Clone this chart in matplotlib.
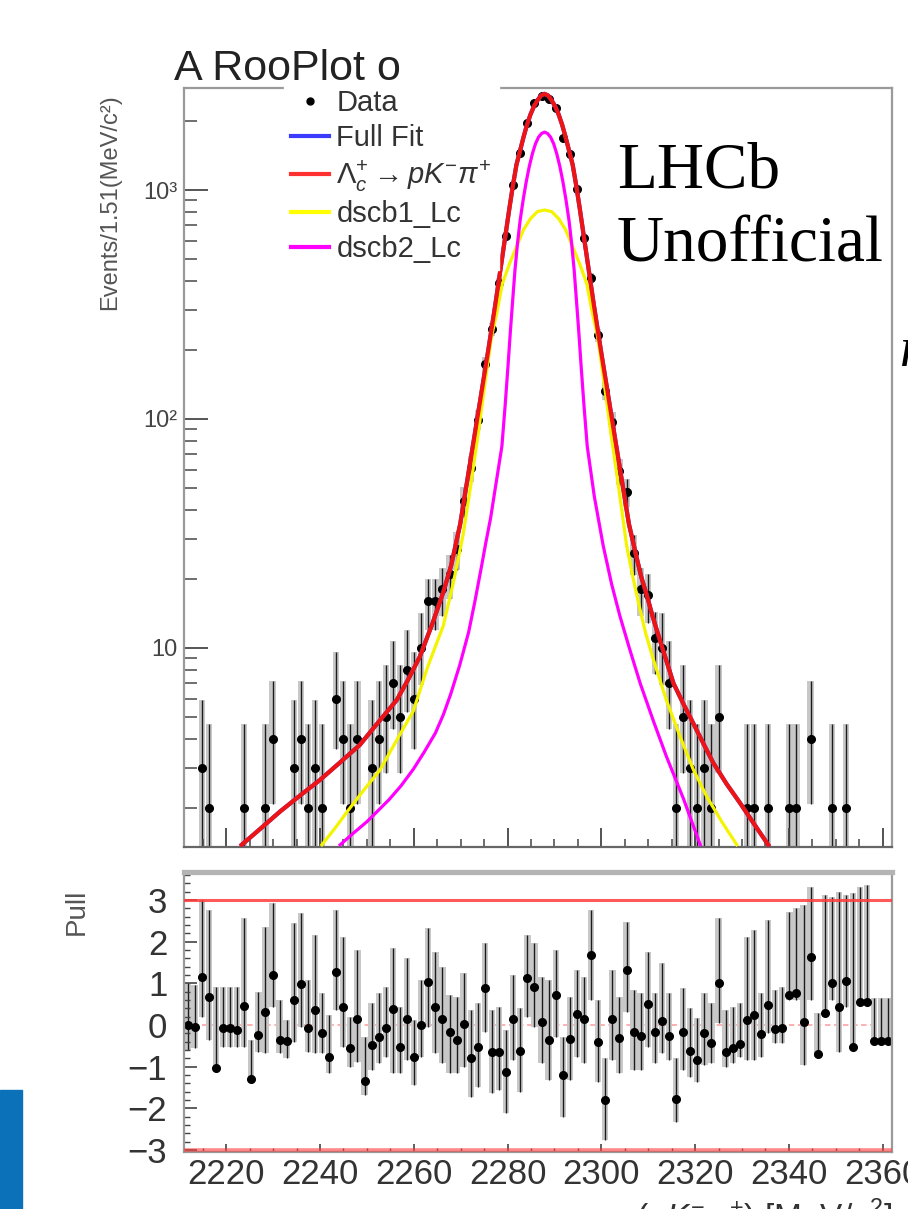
import numpy as np
import matplotlib
matplotlib.use("Agg")
import matplotlib.pyplot as plt
from matplotlib.ticker import MultipleLocator, LogLocator, NullFormatter, FixedLocator
from matplotlib.transforms import Bbox, TransformedBbox
from matplotlib.lines import Line2D
from matplotlib.patches import Rectangle

# ---------------- data ----------------
x_min, x_max = 2211.0, 2362.0
bin_width = 1.51
n_bins = 100

data_counts = [0, 0, 3, 2, 0, 0, 0, 0, 2, 0,
               0, 2, 4, 0, 0, 3, 4, 2, 3, 2,
               0, 6, 4, 2, 4, 0, 3, 4, 5, 7,
               5, 8, 6, 10, 16, 16, 18, 21, 27, 44,
               61, 99, 173, 246, 394, 632, 1052, 1455, 1954, 2388,
               2574, 2494, 2273, 1688, 1432, 1008, 620, 413, 233, 133,
               97, 59, 48, 26, 18, 17, 11, 10, 7, 2,
               5, 3, 2, 3, 2, 5, 0, 0, 0, 2,
               2, 0, 2, 0, 0, 2, 2, 0, 4, 0,
               0, 2, 0, 2, 0, 0, 0, 0, 0, 0]

pull_values = [0.00, -0.05, 1.16, 0.68, -1.04, -0.08, -0.08, -0.12, 0.46, -1.30,
               -0.24, 0.30, 1.20, -0.36, -0.38, 0.60, 0.98, -0.08, 0.36, -0.20,
               -0.76, 1.28, 0.44, -0.56, 0.14, -1.34, -0.48, -0.28, -0.08, 0.38,
               -0.54, 0.14, -0.78, 0.00, 1.04, 0.44, 0.14, -0.18, -0.36, 0.02,
               -0.80, -0.52, 0.88, -0.66, -0.64, -1.12, 0.14, -0.62, 1.12, 0.92,
               0.08, -0.36, 0.72, -1.20, -0.34, 0.26, 0.14, 1.68, -0.42, -1.80,
               0.14, -0.32, 1.32, -0.16, -0.26, 0.50, -0.18, 0.10, -0.26, -1.78,
               -0.18, -0.62, -0.84, -0.20, -0.44, 1.00, -0.66, -0.56, -0.46, 0.12,
               0.24, -0.22, 0.48, -0.10, -0.08, 0.72, 0.76, 0.06, 1.64, -0.70,
               0.28, 1.00, 0.42, 1.06, -0.54, 0.56, 0.56, -0.38, -0.38, -0.38]

pull_upper = [1.00, 0.95, 3.00, 2.76, 0.92, 0.92, 0.92, 0.92, 2.56, -0.36,
              0.80, 2.36, 2.92, 0.60, 0.12, 2.44, 2.68, 1.08, 2.16, 0.76,
              0.24, 2.76, 2.12, 0.20, 1.80, -0.28, 0.52, 0.76, 0.92, 1.84,
              0.44, 1.60, 0.12, 1.08, 2.32, 1.76, 1.40, 0.72, 0.68, 1.24,
              0.36, 0.52, 1.96, 0.36, 0.44, -0.12, 1.20, 0.40, 2.16, 1.96,
              1.16, 1.08, 1.80, -0.28, 0.68, 1.32, 1.16, 2.76, 0.60, -0.80,
              1.32, 0.68, 2.48, 0.84, 0.76, 1.76, 0.76, 1.48, 0.76, -0.80,
              0.88, 0.40, 0.16, 0.76, 0.52, 2.56, 0.36, 0.44, 0.52, 2.12,
              2.28, 0.76, 2.52, 0.84, 0.92, 2.72, 2.80, 2.88, 3.32, 0.28,
              3.12, 3.08, 3.20, 3.12, 3.16, 3.32, 3.36, 0.64, 0.64, 0.64]

pull_lower = [-0.60, -0.55, 0.20, -0.36, -1.08, -0.52, -0.52, -0.52, -0.52, -1.40,
              -0.64, -0.68, 0.44, -0.68, -0.80, -0.40, -0.04, -0.64, -0.68, -0.68,
              -1.16, 0.36, -0.52, -1.00, -0.88, -1.68, -1.08, -0.92, -0.76, -1.16,
              -1.16, -0.84, -1.44, -0.76, -0.04, -0.68, -0.92, -1.16, -1.16, -1.00,
              -1.72, -1.48, -0.16, -1.64, -1.56, -2.12, -0.84, -1.60, 0.20, -0.04,
              -0.92, -1.32, -0.28, -2.20, -1.32, -0.76, -0.92, 0.60, -1.36, -2.76,
              -0.84, -1.16, 0.32, -1.08, -1.08, -0.52, -0.92, -0.68, -0.84, -2.32,
              -1.08, -1.24, -1.36, -0.96, -0.92, 0.04, -1.00, -0.92, -0.76, -0.84,
              -0.84, -0.76, -0.20, -0.44, -0.44, 0.60, 0.60, -0.96, 0.60, -0.76,
              0.20, 0.60, -0.64, 0.44, -0.54, 0.60, 0.60, -0.40, -0.40, -0.40]

# fitted curves (mass, events per bin)
red_mass = [2223.3, 2227.4, 2231.5, 2235.8, 2240.0, 2244.2, 2248.5, 2252.5, 2256.4, 2259.0,
            2261.3, 2264.0, 2266.3, 2268.0, 2269.9, 2271.4, 2272.9, 2274.4, 2275.9, 2277.4,
            2278.9, 2280.4, 2281.15, 2281.9, 2282.65, 2283.4, 2284.15, 2284.9, 2285.65, 2286.4,
            2287.15, 2287.9, 2288.65, 2289.4, 2290.15, 2290.9, 2291.65, 2292.4, 2293.15, 2293.9,
            2294.65, 2295.4, 2296.9, 2298.4, 2299.9, 2301.4, 2302.9, 2304.4, 2305.9, 2307.4,
            2308.5, 2309.7, 2311.0, 2312.5, 2315.4, 2317.5, 2319.6, 2321.7, 2323.9, 2326.7,
            2329.6, 2332.6, 2335.6]
red_vals = [1.38, 1.63, 1.93, 2.27, 2.65, 3.15, 3.77, 4.75, 5.93, 7.4,
            9.16, 12.8, 17.5, 23.0, 34.7, 53.7, 83.0, 129.0, 200.0, 316.0,
            513.0, 832.0, 1047.0, 1288.0, 1479.0, 1698.0, 1928.0, 2138.0, 2323.0, 2466.0,
            2588.0, 2630.0, 2588.0, 2466.0, 2323.0, 2138.0, 1928.0, 1698.0, 1479.0, 1288.0,
            1047.0, 832.0, 513.0, 316.0, 200.0, 129.0, 83.0, 53.7, 34.7, 25.5,
            20.5, 17.0, 13.6, 10.8, 7.0, 5.7, 4.69, 3.85, 3.14, 2.55,
            2.10, 1.70, 1.38]

yellow_mass = [2240.4, 2243.2, 2246.0, 2249.4, 2252.8, 2256.5, 2259.9, 2263.0, 2266.3, 2268.5,
               2270.5, 2272.2, 2273.9, 2275.2, 2276.6, 2277.7, 2278.9, 2280.4, 2281.9, 2283.4,
               2284.9, 2286.4, 2287.9, 2289.4, 2290.9, 2292.4, 2293.9, 2295.4, 2296.9, 2298.1,
               2299.2, 2300.6, 2301.9, 2303.6, 2305.4, 2306.6, 2308.0, 2309.5, 2311.1, 2313.9,
               2316.8, 2319.6, 2322.5, 2325.7, 2328.9]
yellow_vals = [1.38, 1.63, 1.95, 2.4, 2.93, 4.0, 5.3, 8.3, 12.5, 19.5,
               31.0, 52.0, 91.0, 144.0, 230.0, 290.0, 390.0, 475.0, 565.0, 670.0,
               750.0, 805.0, 818.0, 805.0, 750.0, 670.0, 565.0, 475.0, 390.0, 290.0,
               230.0, 144.0, 91.0, 52.0, 28.0, 21.0, 15.5, 11.5, 8.9, 5.9,
               4.1, 2.95, 2.24, 1.74, 1.38]

magenta_mass = [2244.3, 2247.1, 2250.0, 2254.7, 2257.3, 2259.9, 2262.2, 2264.6, 2266.3, 2267.9,
                2269.8, 2271.7, 2273.0, 2274.4, 2275.4, 2276.4, 2277.4, 2278.8, 2279.5, 2280.1,
                2280.6, 2281.1, 2281.6, 2282.15, 2282.7, 2283.35, 2284.0, 2284.65, 2285.3, 2285.95,
                2286.6, 2287.25, 2287.9, 2288.55, 2289.2, 2289.85, 2290.5, 2291.15, 2291.8, 2292.45,
                2293.1, 2293.65, 2294.2, 2294.7, 2295.2, 2295.7, 2296.3, 2297.0, 2298.5, 2300.4,
                2302.2, 2304.0, 2306.1, 2308.3, 2311.1, 2313.9, 2317.5, 2321.1]
magenta_vals = [1.38, 1.55, 1.74, 2.17, 2.5, 2.95, 3.5, 4.24, 5.1, 6.3,
                8.4, 11.7, 15.8, 22.4, 29.0, 37.0, 50.0, 76.0, 115.0, 170.0,
                240.0, 330.0, 450.0, 590.0, 740.0, 910.0, 1090.0, 1270.0, 1440.0, 1590.0,
                1700.0, 1765.0, 1790.0, 1765.0, 1700.0, 1590.0, 1440.0, 1270.0, 1090.0, 910.0,
                740.0, 590.0, 450.0, 330.0, 240.0, 170.0, 115.0, 76.0, 46.0, 28.0,
                19.0, 13.7, 9.8, 7.0, 4.8, 3.35, 2.2, 1.38]

# 68% Poisson intervals for small counts (lower, upper)
poisson_table = {2: (0.71, 4.64), 3: (1.37, 5.92), 4: (2.09, 7.16), 5: (2.84, 8.38),
                 6: (3.62, 9.58), 7: (4.42, 10.77), 8: (5.23, 11.95), 10: (6.89, 14.27)}

# ---------------- style ----------------
NARROW = ['Liberation Sans Narrow', 'Liberation Sans', 'DejaVu Sans']
SANS = ['Liberation Sans', 'DejaVu Sans']
plt.rcParams['font.family'] = SANS
plt.rcParams['mathtext.fontset'] = 'custom'
plt.rcParams['mathtext.rm'] = 'Liberation Sans'
plt.rcParams['mathtext.it'] = 'Liberation Sans:italic'
plt.rcParams['mathtext.bf'] = 'Liberation Sans:bold'

W, H = 908, 1209
fig = plt.figure(figsize=(W / 100, H / 100), dpi=100)


def fx(px):
    return px / W


def fy(py):
    return 1 - py / H


centers = x_min + bin_width * (np.arange(n_bins) + 0.5)
counts = np.array(data_counts, dtype=float)

# ---------------- top panel ----------------
ax = fig.add_axes([fx(184), fy(847), fx(892) - fx(184), fy(88) - fy(847)])
ax.set_yscale('log')
ax.set_xlim(x_min, x_max)
ax.set_ylim(1.35, 2790)

vis = counts > 0
xc = centers[vis]
nc = counts[vis]
lo = np.array([poisson_table[int(n)][0] if int(n) in poisson_table else n - np.sqrt(n) for n in nc])
hi = np.array([poisson_table[int(n)][1] if int(n) in poisson_table else n + np.sqrt(n) for n in nc])
ax.bar(xc, hi - lo, bottom=lo, width=0.9 * bin_width, color='#c8c8c8', zorder=1)
ax.vlines(xc, lo, hi, color='#1c1c1c', lw=1.0, zorder=1.5)
ax.plot(xc, nc, 'o', color='black', ms=5.5, zorder=2)

ax.plot(red_mass, red_vals, color='#3b3bff', lw=3.0, zorder=2.6)   # Full Fit (under the signal)
ax.plot(yellow_mass, yellow_vals, color='#f4f400', lw=2.3, zorder=2.7)
ax.plot(magenta_mass, magenta_vals, color='#ff00ff', lw=2.3, zorder=2.8)
ax.plot(red_mass, red_vals, color='#ee1414', lw=3.0, zorder=2.9)

ax.xaxis.set_major_locator(MultipleLocator(20))
ax.xaxis.set_minor_locator(MultipleLocator(5))
ax.tick_params(axis='x', which='both', direction='in', labelbottom=False, top=False, colors='#444444')
ax.tick_params(axis='x', which='major', length=14, width=1.3)
ax.tick_params(axis='x', which='minor', length=6, width=1.1)
ax.yaxis.set_major_locator(FixedLocator([10, 100, 1000]))
ax.set_yticklabels(['10', '10²', '10³'])
ax.yaxis.set_minor_locator(LogLocator(base=10, subs=np.arange(2, 10)))
ax.yaxis.set_minor_formatter(NullFormatter())
ax.tick_params(axis='y', which='both', direction='in', right=False, colors='#555555')
ax.tick_params(axis='y', which='major', length=17, width=1.4, pad=5, labelsize=17, labelcolor='#444444')
ax.tick_params(axis='y', which='minor', length=9, width=1.2)
for lab in ax.get_yticklabels():
    lab.set_family(NARROW)
for s in ax.spines.values():
    s.set_color('#9a9a9a')
    s.set_linewidth(1.6)
ax.spines['bottom'].set_color('#666666')

# ---------------- pull panel ----------------
axp = fig.add_axes([fx(184), fy(1152), fx(892) - fx(184), fy(872) - fy(1152)])
axp.set_xlim(x_min, x_max)
axp.set_ylim(-3.05, 3.67)
pv = np.array(pull_values)
pu = np.array(pull_upper)
pl = np.array(pull_lower)
axp.bar(centers, pu - pl, bottom=pl, width=0.9 * bin_width, color='#c8c8c8', zorder=1)
axp.vlines(centers, pl, pu, color='#1c1c1c', lw=1.0, zorder=1.5)
axp.plot(centers, pv, 'o', color='black', ms=5.5, zorder=2)
axp.axhline(3, color='#ff3c3c', lw=2.2, alpha=0.85, zorder=3)
axp.axhline(-3, color='#ff3c3c', lw=2.6, alpha=0.6, zorder=3)
axp.axhline(0, color='#ffaaaa', lw=1.3, ls=(0, (3, 2)), zorder=0.5)

axp.xaxis.set_major_locator(MultipleLocator(20))
axp.xaxis.set_minor_locator(MultipleLocator(5))
axp.yaxis.set_major_locator(MultipleLocator(1))
axp.yaxis.set_minor_locator(MultipleLocator(0.2))
axp.tick_params(axis='both', which='both', direction='in', top=False, right=False, colors='#444444')
axp.tick_params(axis='x', which='major', length=6, width=1.2, pad=4, labelsize=25, labelcolor='#333333')
axp.tick_params(axis='x', which='minor', length=3, width=1.0)
axp.tick_params(axis='y', which='major', length=9, width=1.2, pad=12, labelsize=25, labelcolor='#333333')
axp.tick_params(axis='y', which='minor', length=4, width=1.0)
for lab in axp.get_xticklabels() + axp.get_yticklabels():
    lab.set_family(NARROW)
for s in axp.spines.values():
    s.set_color('#9a9a9a')
    s.set_linewidth(1.6)
axp.spines['top'].set_color('#b4b4b4')
axp.spines['top'].set_linewidth(3.8)

# ---------------- texts ----------------
title = fig.text(fx(174), fy(80), 'A RooPlot of m', fontsize=31, color='#222222',
                 family=SANS, va='baseline', ha='left')
title.set_clip_box(TransformedBbox(Bbox.from_extents(0, 0, fx(400), 1), fig.transFigure))
title.set_clip_on(True)

fig.text(fx(110), fy(202), 'Events/1.51(MeV/c²)', rotation=90, fontsize=17, color='#555555',
         family=NARROW, ha='center', va='center')
fig.text(fx(77), fy(912), 'Pull', rotation=90, fontsize=20, color='#555555',
         family=SANS, ha='center', va='center')
fig.text(fx(892), fy(1196), r'$m(pK^{-}\pi^{+})$ [MeV/$c^{2}$]', fontsize=24, color='#333333',
         ha='right', va='top')

fig.text(fx(617), fy(188), 'LHCb', fontsize=47, family=['Liberation Serif', 'DejaVu Serif'],
         color='black', va='baseline', ha='left')
fig.text(fx(617), fy(262), 'Unofficial', fontsize=47, family=['Liberation Serif', 'DejaVu Serif'],
         color='black', va='baseline', ha='left')
fig.text(fx(900), fy(366), 'm', fontsize=40, family=['Liberation Serif', 'DejaVu Serif'],
         style='italic', color='black', va='baseline', ha='left')

fig.patches.append(Rectangle((0, 0), fx(22), fy(1090), transform=fig.transFigure,
                             color='#0b72b9', zorder=10))

# ---------------- legend ----------------
handles = [Line2D([], [], marker='o', ls='none', color='black', ms=5),
           Line2D([], [], color='#3b3bff', lw=3),
           Line2D([], [], color='#ff3030', lw=3),
           Line2D([], [], color='#ffff00', lw=3),
           Line2D([], [], color='#ff00ff', lw=3)]
labels = ['Data', 'Full Fit', r'$\Lambda_{c}^{+}\rightarrow pK^{-}\pi^{+}$', 'dscb1_Lc', 'dscb2_Lc']
leg = fig.legend(handles, labels, loc='upper left', bbox_to_anchor=(fx(284), fy(82)),
                 frameon=True, facecolor='white', edgecolor='white', framealpha=1.0,
                 handlelength=1.3, handletextpad=0.25, labelspacing=0.22, borderpad=0.25,
                 borderaxespad=0, prop={'family': NARROW, 'size': 21})
for t in leg.get_texts():
    t.set_color('#333333')
leg.get_frame().set_boxstyle('square', pad=0)

fig.savefig('out.png', dpi=100)
